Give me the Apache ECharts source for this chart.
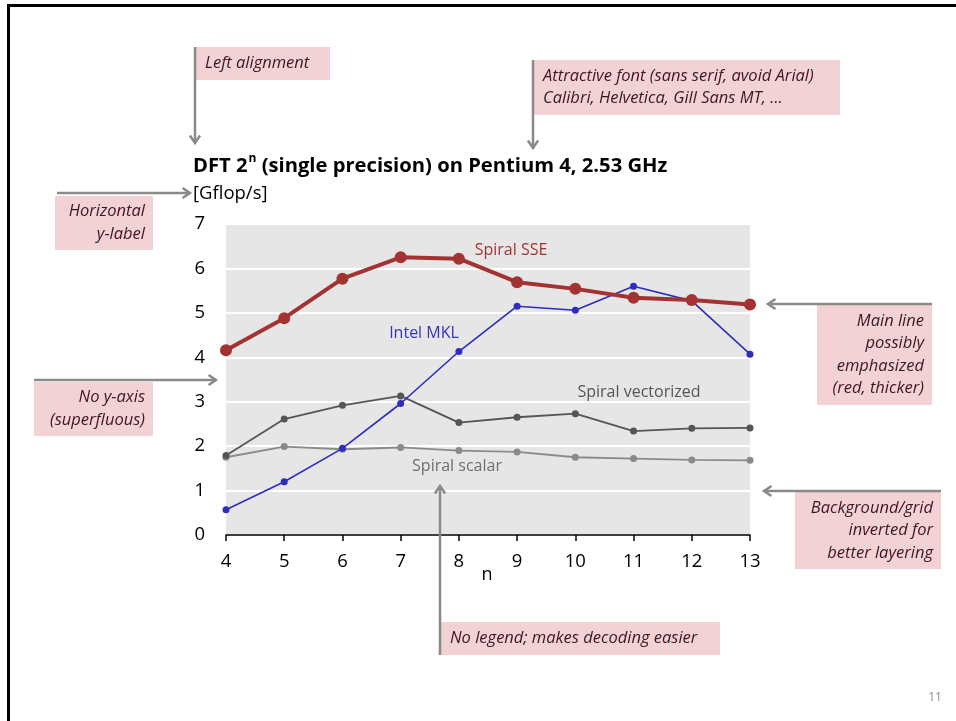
<!DOCTYPE html>
<html>
<head>
<meta charset="utf-8">
<script src="https://cdn.jsdelivr.net/npm/echarts@6/dist/echarts.min.js"></script>
<style>
html,body{margin:0;padding:0;background:#fff;}
#c{width:956px;height:721px;}
</style>
</head>
<body>
<div id="c"></div>
<script>
const nValues = [4, 5, 6, 7, 8, 9, 10, 11, 12, 13];
const spiralSSE = [4.16, 4.88, 5.77, 6.25, 6.22, 5.69, 5.54, 5.34, 5.29, 5.19];
const intelMKL = [0.57, 1.20, 1.95, 2.96, 4.13, 5.15, 5.06, 5.60, 5.27, 4.07];
const spiralVectorized = [1.79, 2.61, 2.92, 3.13, 2.53, 2.65, 2.73, 2.34, 2.40, 2.41];
const spiralScalar = [1.75, 1.99, 1.93, 1.97, 1.90, 1.87, 1.75, 1.72, 1.69, 1.68];
const yTicks = [0, 1, 2, 3, 4, 5, 6, 7];

const FONT = '"Open Sans", Lato, sans-serif';
const pink = '#f2d2d4';
const noteColor = '#3f1526';
const arrowColor = '#8a8a8a';

function pairs(ys) { return nValues.map((n, i) => [n, ys[i]]); }

function noteBox(x, y, w, h, lines, align) {
  const els = [{
    type: 'rect', shape: {x: x, y: y, width: w, height: h},
    style: {fill: pink}, z: 1
  }];
  const lh = 22.5;
  const startY = y + (h - lines.length * lh) / 2 + lh / 2;
  lines.forEach((t, i) => {
    els.push({
      type: 'text', z: 2,
      x: align === 'right' ? x + w - 8 : x + 10,
      y: startY + i * lh,
      style: {text: t, font: 'italic 16.5px ' + FONT, fill: noteColor,
        textAlign: align === 'right' ? 'right' : 'left', textVerticalAlign: 'middle'}
    });
  });
  return els;
}

function arrow(x1, y1, x2, y2) {
  const ang = Math.atan2(y2 - y1, x2 - x1);
  const L = 9, a = 0.6;
  const p1 = [x2 - L * Math.cos(ang - a), y2 - L * Math.sin(ang - a)];
  const p2 = [x2 - L * Math.cos(ang + a), y2 - L * Math.sin(ang + a)];
  return [
    {type: 'line', z: 3, shape: {x1: x1, y1: y1, x2: x2, y2: y2}, style: {stroke: arrowColor, lineWidth: 2.5}},
    {type: 'polyline', z: 3, shape: {points: [p1, [x2, y2], p2]}, style: {stroke: arrowColor, lineWidth: 2.5, fill: null}}
  ];
}

let graphics = [];
// slide border
graphics.push({type: 'line', shape: {x1: 8, y1: 5.5, x2: 956, y2: 5.5}, style: {stroke: '#000', lineWidth: 3}});
graphics.push({type: 'line', shape: {x1: 8.5, y1: 4, x2: 8.5, y2: 721}, style: {stroke: '#000', lineWidth: 3}});

graphics = graphics.concat(noteBox(195, 47, 135, 33, ['Left alignment'], 'left'));
graphics = graphics.concat(arrow(195, 47, 195, 143));
graphics = graphics.concat(noteBox(533, 60, 307, 55, ['Attractive font (sans serif, avoid Arial)', 'Calibri, Helvetica, Gill Sans MT, \u2026'], 'left'));
graphics = graphics.concat(arrow(533, 60, 533, 148));
graphics = graphics.concat(noteBox(55, 196, 98, 54, ['Horizontal', 'y-label'], 'right'));
graphics = graphics.concat(arrow(57, 193, 190, 193));
graphics = graphics.concat(noteBox(34, 382, 119, 54, ['No y-axis', '(superfluous)'], 'right'));
graphics = graphics.concat(arrow(34, 380, 216, 380));
graphics = graphics.concat(noteBox(817, 305, 115, 100, ['Main line', 'possibly', 'emphasized', '(red, thicker)'], 'right'));
graphics = graphics.concat(arrow(932, 304, 768, 304));
graphics = graphics.concat(noteBox(795, 492, 146, 77, ['Background/grid', 'inverted for', 'better layering'], 'right'));
graphics = graphics.concat(arrow(941, 491, 764, 491));
graphics = graphics.concat(noteBox(440, 622, 280, 33, ['No legend; makes decoding easier'], 'left'));
graphics = graphics.concat(arrow(440, 655, 440, 486));

// y label
graphics.push({type: 'text', x: 193, y: 194, style: {text: '[Gflop/s]', font: '18.5px ' + FONT, fill: '#000', textVerticalAlign: 'middle'}});
// x name
graphics.push({type: 'text', x: 487, y: 575, style: {text: 'n', font: '18px ' + FONT, fill: '#000', textAlign: 'center', textVerticalAlign: 'middle'}});
// series labels
graphics.push({type: 'text', x: 511, y: 250, style: {text: 'Spiral SSE', font: '16px ' + FONT, fill: '#a33434', textAlign: 'center', textVerticalAlign: 'middle'}});
graphics.push({type: 'text', x: 424, y: 333, style: {text: 'Intel MKL', font: '16px ' + FONT, fill: '#3535b8', textAlign: 'center', textVerticalAlign: 'middle'}});
graphics.push({type: 'text', x: 639, y: 392, style: {text: 'Spiral vectorized', font: '16px ' + FONT, fill: '#555', textAlign: 'center', textVerticalAlign: 'middle'}});
graphics.push({type: 'text', x: 457, y: 466, style: {text: 'Spiral scalar', font: '16px ' + FONT, fill: '#6f6f6f', textAlign: 'center', textVerticalAlign: 'middle'}});
// page number
graphics.push({type: 'text', x: 935, y: 698, style: {text: '11', font: '12px ' + FONT, fill: '#888', textAlign: 'center', textVerticalAlign: 'middle'}});

const chart = echarts.init(document.getElementById('c'), null, {renderer: 'canvas'});
chart.setOption({
  backgroundColor: '#fff',
  animation: false,
  title: {
    left: 188, top: 148,
    text: '{a|DFT 2}{s|n}{a| (single precision) on Pentium 4, 2.53 GHz}',
    textStyle: {
      rich: {
        a: {fontFamily: FONT, fontWeight: 'bold', fontSize: 20.2, color: '#000', lineHeight: 26},
        s: {fontFamily: FONT, fontWeight: 'bold', fontSize: 12, color: '#000', verticalAlign: 'top', lineHeight: 14, padding: [0, 0, 8, 1]}
      }
    }
  },
  grid: {left: 226, right: 206, top: 224, bottom: 186, show: true, backgroundColor: '#e6e6e6', borderWidth: 0},
  xAxis: {
    type: 'value', min: 4, max: 13, interval: 1,
    axisLine: {show: true, lineStyle: {color: '#000', width: 1.5}},
    axisTick: {show: true, length: 6, lineStyle: {color: '#000', width: 1.5}},
    axisLabel: {color: '#000', fontSize: 18.5, fontFamily: FONT, margin: 17},
    splitLine: {show: false}
  },
  yAxis: {
    type: 'value', min: yTicks[0], max: yTicks[yTicks.length - 1], interval: 1,
    axisLine: {show: false}, axisTick: {show: false},
    axisLabel: {color: '#000', fontSize: 18.5, fontFamily: FONT, margin: 21},
    splitLine: {show: true, lineStyle: {color: '#fff', width: 2}}
  },
  series: [
    {type: 'line', data: pairs(spiralScalar), symbol: 'circle', symbolSize: 7,
      lineStyle: {color: '#8a8a8a', width: 1.8}, itemStyle: {color: '#8a8a8a'}, z: 2},
    {type: 'line', data: pairs(spiralVectorized), symbol: 'circle', symbolSize: 7,
      lineStyle: {color: '#555555', width: 1.8}, itemStyle: {color: '#555555'}, z: 3},
    {type: 'line', data: pairs(intelMKL), symbol: 'circle', symbolSize: 7,
      lineStyle: {color: '#2d2dbf', width: 1.6}, itemStyle: {color: '#2d2dbf'}, z: 4},
    {type: 'line', data: pairs(spiralSSE), symbol: 'circle', symbolSize: 12,
      lineStyle: {color: '#a33232', width: 4}, itemStyle: {color: '#a33232'}, z: 5}
  ],
  graphic: graphics
});
</script>
</body>
</html>
